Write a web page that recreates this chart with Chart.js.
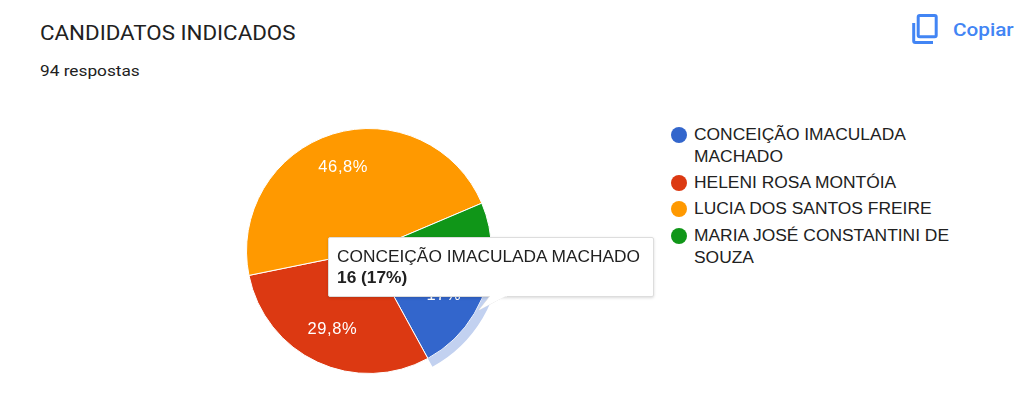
<!DOCTYPE html>
<html lang="pt">
<head>
<meta charset="utf-8">
<title>CANDIDATOS INDICADOS</title>
<script src="https://cdn.jsdelivr.net/npm/chart.js@4/dist/chart.umd.min.js"></script>
<style>
    html, body { margin: 0; padding: 0; background: #fff; }
    body { position: relative; width: 1017px; height: 417px; overflow: hidden; font-family: 'Liberation Sans', sans-serif; filter: blur(0.4px); }
    .abs { position: absolute; white-space: nowrap; }
    /* the reference text is stretched sideways, so scale instead of spacing */
    .wide { transform-origin: left center; }
    #title { left: 40px; top: 21px; font: 21px/24px Roboto, sans-serif; color: #212121; transform: scaleX(1.0625); }
    #subtitle { left: 40px; top: 62px; font: 15px/18px Roboto, sans-serif; color: #212121; transform: scaleX(1.15); }
    #copyIcon { left: 905px; top: 10px; width: 40px; height: 40px; }
    #copyText { left: 953px; top: 19px; font: 500 18px/22px Roboto, sans-serif; color: #4285f4; transform: scaleX(1.15); }
    #chartBox { left: 236.5px; top: 118.5px; width: 264px; height: 264px; }
    #legend .dot { position: absolute; left: 671px; width: 16px; height: 16px; border-radius: 50%; }
    #legend .txt { position: absolute; left: 694px; font-size: 16px; line-height: 22px; color: #212121; white-space: nowrap; transform: scaleX(1.088); }
    #tooltip { left: 328px; top: 237px; width: 326px; height: 60px; box-sizing: border-box; background: #fff; border-radius: 2px;
        border: 1px solid #ddd; box-shadow: 0 1px 3px rgba(0,0,0,0.15); font-size: 16px; line-height: 21px; color: #212121; padding: 8px; }
    #tooltipText { display: inline-block; transform: scaleX(1.082); }
    #tail { left: 470px; top: 295px; width: 50px; height: 24px; }
</style>
</head>
<body>
<div class="abs wide" id="title"></div>
<div class="abs wide" id="subtitle"></div>
<svg class="abs" id="copyIcon" viewBox="0 0 40 40" fill="none" stroke="#4285f4" stroke-width="3">
    <rect x="13.2" y="5.5" width="18" height="21.3" rx="1.5"/>
    <path d="M8.7 13 V31 a1.5 1.5 0 0 0 1.5 1.5 H28"/>
</svg>
<div class="abs wide" id="copyText">Copiar</div>
<div class="abs" id="chartBox"><canvas id="pieChart"></canvas></div>
<div id="legend"></div>
<div class="abs" id="tooltip"><span class="wide" id="tooltipText"></span></div>
<svg class="abs" id="tail" viewBox="0 0 50 24"><path d="M20 1 L9 15 L35 1" fill="#fff" stroke="#ddd" stroke-width="1"/><path d="M18 0 H37 V1.5 L35 1.5 L9 15 L20 1.5 Z" fill="#fff"/></svg>

<script>
const chartTitle = 'CANDIDATOS INDICADOS';
const responseText = '94 respostas';
const categories = ['CONCEIÇÃO IMACULADA MACHADO', 'HELENI ROSA MONTÓIA', 'LUCIA DOS SANTOS FREIRE', 'MARIA JOSÉ CONSTANTINI DE SOUZA'];
const legendLines = [['CONCEIÇÃO IMACULADA', 'MACHADO'], ['HELENI ROSA MONTÓIA'], ['LUCIA DOS SANTOS FREIRE'], ['MARIA JOSÉ CONSTANTINI DE', 'SOUZA']];
const votes = [16, 28, 44, 6];
const sliceLabels = ['17%', '29,8%', '46,8%', ''];
const sliceColors = ['#3366CC', '#DC3912', '#FF9900', '#109618'];
const ringColors = ['#C2D1F0', 'rgba(0,0,0,0)', 'rgba(0,0,0,0)', 'rgba(0,0,0,0)'];
const legendTops = [124, 172, 198, 225];
const dotTops = [127, 175, 201, 228];

document.getElementById('title').textContent = chartTitle;
document.getElementById('subtitle').textContent = responseText;

// Legend built by hand because the labels wrap
const legend = document.getElementById('legend');
categories.forEach((name, i) => {
    const dot = document.createElement('div');
    dot.className = 'dot';
    dot.style.top = dotTops[i] + 'px';
    dot.style.background = sliceColors[i];
    legend.appendChild(dot);

    const txt = document.createElement('div');
    txt.className = 'txt wide';
    txt.style.top = legendTops[i] + 'px';
    txt.innerHTML = legendLines[i].join('<br>');
    legend.appendChild(txt);
});

// Fixed tooltip for the highlighted slice
document.getElementById('tooltipText').innerHTML = categories[0] + '<br><b>' + votes[0] + ' (17%)</b>';

// Draw percent labels inside the slices
const sliceLabelPlugin = {
    id: 'sliceLabels',
    afterDatasetsDraw(chart) {
        const ctx = chart.ctx;
        const arcs = chart.getDatasetMeta(1).data;
        ctx.save();
        ctx.font = "16.5px 'Liberation Sans', sans-serif";
        ctx.letterSpacing = '0.6px';
        ctx.fillStyle = '#ffffff';
        ctx.textAlign = 'center';
        ctx.textBaseline = 'middle';
        arcs.forEach((arc, i) => {
            const mid = (arc.startAngle + arc.endAngle) / 2;
            const dist = arc.outerRadius * 0.71;
            ctx.fillText(sliceLabels[i], arc.x + Math.cos(mid) * dist, arc.y + Math.sin(mid) * dist);
        });
        ctx.restore();
    }
};

new Chart(document.getElementById('pieChart').getContext('2d'), {
    type: 'pie',
    data: {
        labels: categories,
        datasets: [
            { data: votes, backgroundColor: ringColors, borderWidth: 0, weight: 9.5 },
            { data: votes, backgroundColor: sliceColors, borderColor: '#ffffff', borderWidth: 1, weight: 122.5 }
        ]
    },
    options: {
        responsive: true,
        maintainAspectRatio: false,
        animation: false,
        rotation: 90,
        layout: { padding: 0 },
        events: [],
        plugins: { legend: { display: false }, tooltip: { enabled: false } }
    },
    plugins: [sliceLabelPlugin]
});
</script>
</body>
</html>
